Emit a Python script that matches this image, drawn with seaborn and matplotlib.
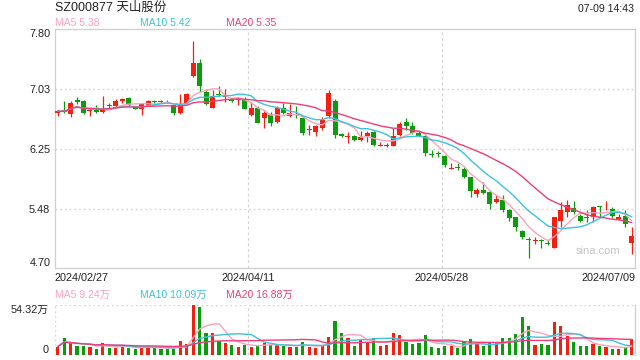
import numpy as np
import pandas as pd
import matplotlib
matplotlib.use("Agg")
import matplotlib.pyplot as plt
import seaborn as sns
from matplotlib.transforms import blended_transform_factory as btf

# ---------------- data ----------------
title = "SZ000877 天山股份"
timestamp = "07-09 14:43"
ma_price_text = ["MA5 5.38", "MA10 5.42", "MA20 5.35"]
ma_vol_text = ["MA5 9.24万", "MA10 10.09万", "MA20 16.88万"]
date_labels = ["2024/02/27", "2024/04/11", "2024/05/28", "2024/07/09"]
price_ticks = [4.70, 5.475, 6.25, 7.025, 7.80]
price_tick_labels = ["4.70", "5.48", "6.25", "7.03", "7.80"]
vol_ticks = [0, 54.32]
vol_tick_labels = ["0", "54.32万"]
watermark = "sina.com"

opens = [6.72, 6.75, 6.70, 6.88, 6.87, 6.74, 6.75, 6.73, 6.82, 6.81,
         6.87, 6.91, 6.80, 6.77, 6.82, 6.87, 6.87, 6.86, 6.82, 6.71,
         6.85, 7.19, 7.36, 6.99, 6.78, 6.96, 6.92, 6.90, 6.88, 6.88,
         6.69, 6.78, 6.65, 6.69, 6.60, 6.78, 6.67, 6.70, 6.65, 6.49,
         6.47, 6.52, 6.67, 6.87, 6.44, 6.40, 6.42, 6.36, 6.42, 6.47,
         6.29, 6.29, 6.29, 6.43, 6.60, 6.54, 6.46, 6.42, 6.18, 6.19,
         6.16, 5.99, 6.02, 5.99, 5.88, 5.66, 5.71, 5.69, 5.56, 5.58,
         5.46, 5.36, 5.18, 5.08, 5.06, 5.07, 5.02, 4.96, 5.32, 5.43,
         5.48, 5.38, 5.36, 5.36, 5.50, 5.45, 5.47, 5.34, 5.38, 5.03]
highs = [6.75, 6.87, 6.87, 6.92, 6.88, 6.76, 6.82, 6.93, 6.84, 6.89,
         6.91, 6.92, 6.81, 6.85, 6.88, 6.88, 6.88, 6.88, 6.83, 6.96,
         6.98, 7.65, 7.41, 7.03, 7.01, 7.06, 7.03, 6.91, 6.92, 6.92,
         6.86, 6.80, 6.74, 6.73, 6.80, 6.84, 6.83, 6.80, 6.66, 6.56,
         6.56, 6.66, 7.01, 6.89, 6.45, 6.47, 6.43, 6.48, 6.48, 6.48,
         6.34, 6.33, 6.52, 6.60, 6.65, 6.60, 6.48, 6.43, 6.23, 6.22,
         6.17, 6.07, 6.07, 6.01, 5.89, 5.74, 5.82, 5.71, 5.65, 5.65,
         5.47, 5.37, 5.20, 5.10, 5.11, 5.08, 5.07, 5.37, 5.56, 5.58,
         5.57, 5.40, 5.45, 5.51, 5.51, 5.57, 5.50, 5.41, 5.45, 5.24]
lows = [6.67, 6.71, 6.66, 6.83, 6.70, 6.68, 6.72, 6.72, 6.78, 6.79,
        6.84, 6.80, 6.76, 6.69, 6.80, 6.84, 6.84, 6.84, 6.69, 6.70,
        6.84, 7.18, 6.99, 6.82, 6.78, 6.93, 6.86, 6.86, 6.82, 6.76,
        6.67, 6.58, 6.52, 6.54, 6.58, 6.70, 6.66, 6.65, 6.43, 6.43,
        6.42, 6.50, 6.65, 6.39, 6.40, 6.32, 6.35, 6.35, 6.34, 6.28,
        6.28, 6.27, 6.28, 6.41, 6.49, 6.44, 6.41, 6.16, 6.15, 6.14,
        6.02, 5.99, 5.98, 5.87, 5.63, 5.63, 5.67, 5.47, 5.55, 5.43,
        5.32, 5.18, 5.08, 4.83, 5.01, 4.96, 5.00, 4.96, 5.24, 5.36,
        5.41, 5.30, 5.30, 5.30, 5.36, 5.45, 5.35, 5.33, 5.24, 4.88]
closes = [6.74, 6.73, 6.84, 6.86, 6.71, 6.75, 6.73, 6.76, 6.81, 6.87,
          6.89, 6.82, 6.77, 6.83, 6.87, 6.86, 6.86, 6.85, 6.71, 6.82,
          6.96, 7.36, 7.06, 6.83, 6.93, 6.95, 6.93, 6.87, 6.89, 6.77,
          6.78, 6.59, 6.72, 6.58, 6.78, 6.71, 6.71, 6.69, 6.45, 6.50,
          6.54, 6.62, 6.98, 6.43, 6.41, 6.41, 6.36, 6.40, 6.46, 6.30,
          6.30, 6.30, 6.41, 6.57, 6.54, 6.45, 6.42, 6.19, 6.17, 6.18,
          6.04, 6.00, 6.00, 5.89, 5.70, 5.71, 5.68, 5.54, 5.60, 5.46,
          5.35, 5.23, 5.10, 5.07, 5.07, 5.05, 5.01, 5.36, 5.45, 5.52,
          5.43, 5.32, 5.35, 5.49, 5.49, 5.46, 5.38, 5.37, 5.27, 5.12]
volumes = [9.1, 18.8, 12.7, 10.1, 10.1, 9.1, 6.9, 13.4, 8.0, 8.0,
           10.1, 8.0, 6.5, 8.0, 10.1, 8.0, 6.5, 6.5, 6.5, 15.2,
           12.0, 54.32, 52.5, 24.3, 23.5, 15.2, 13.4, 10.9, 9.1, 10.9,
           9.1, 10.9, 13.4, 10.9, 10.9, 10.1, 9.1, 9.1, 14.5, 9.1,
           7.2, 9.8, 19.9, 37.3, 24.3, 18.8, 10.1, 16.3, 13.8, 18.8,
           10.1, 10.9, 24.3, 21.7, 14.5, 12.0, 13.4, 21.7, 8.3, 7.2,
           9.8, 9.8, 8.0, 15.2, 17.4, 12.7, 9.8, 13.4, 13.4, 18.8,
           18.8, 22.8, 41.6, 31.5, 10.9, 12.0, 10.9, 36.2, 31.5, 20.6,
           14.5, 9.8, 9.8, 12.0, 9.8, 9.1, 6.5, 6.5, 8.0, 17.0]

# ---------------- styling ----------------
RED = "#f4200f"
GREEN = "#0b9b0b"
C_MA5 = "#f9a2bc"
C_MA10 = "#3cc2df"
C_MA20 = "#ee3e78"
GRID = "#d2d2d2"
FRAME = "#cfcfcf"
TXT = "#222222"

sns.set_style("white")
plt.rcParams["font.family"] = ["Liberation Sans", "Noto Sans CJK SC", "DejaVu Sans"]

n = len(closes)
df = pd.DataFrame({"i": np.arange(n), "open": opens, "high": highs,
                   "low": lows, "close": closes, "vol": volumes})
for w in (5, 10, 20):
    df[f"ma{w}"] = df["close"].rolling(w, min_periods=1).mean()
    df[f"vma{w}"] = df["vol"].rolling(w, min_periods=1).mean()
df["col"] = np.where(df["close"] >= df["open"], RED, GREEN)

W, H = 640, 360
fig = plt.figure(figsize=(W / 100, H / 100), dpi=100)
L, R = 54.5, 635.0
ax = fig.add_axes([L / W, 1 - 268.3 / H, (R - L) / W, (268.3 - 29.3) / H])
axv = fig.add_axes([L / W, 1 - 355 / H, (R - L) / W, 50 / H])

# ---------------- price panel ----------------
ax.vlines(df["i"], df["low"], df["high"], colors=df["col"], linewidth=0.9, zorder=2)
body = np.maximum((df["close"] - df["open"]).abs(), 0.012)
ax.bar(df["i"], body, bottom=np.minimum(df["open"], df["close"]),
       width=0.78, color=df["col"], linewidth=0, zorder=3)
for key, c in (("ma5", C_MA5), ("ma10", C_MA10), ("ma20", C_MA20)):
    sns.lineplot(data=df, x="i", y=key, ax=ax, color=c, linewidth=1.0,
                 legend=False, zorder=4)

ax.set_xlim(-0.5, n - 0.5)
ax.set_ylim(price_ticks[0], price_ticks[-1])
for yv in price_ticks[1:-1]:
    ax.axhline(yv, color=GRID, linestyle=(0, (1.2, 2.2)), linewidth=1.0, zorder=1)
for xv in (29.5, 59.5):
    ax.axvline(xv, color=GRID, linestyle=(0, (2.5, 2.5)), linewidth=0.8, zorder=1)
for s in ax.spines.values():
    s.set_color(FRAME)
    s.set_linewidth(0.9)
ax.set_xticks([])
ax.set_xlabel("")
ax.set_ylabel("")
ax.set_yticks(price_ticks)
ax.set_yticklabels(price_tick_labels, fontsize=7.8, color=TXT)
ax.tick_params(axis="y", length=0, pad=3)
tl = ax.get_yticklabels()
tl[0].set_va("bottom")
tl[-1].set_va("top")

tr = btf(ax.transData, ax.transAxes)
date_pos = [-0.5, 29.5, 59.5, n - 0.5]
date_ha = ["left", "center", "center", "right"]
for xv, lab, ha in zip(date_pos, date_labels, date_ha):
    ax.text(xv, -0.018, lab, transform=tr, ha=ha, va="top", fontsize=7.8, color=TXT)

ax.text(0.975, 0.072, watermark, transform=ax.transAxes, ha="right", va="center",
        fontsize=8, color="#c4c4c4")

# ---------------- volume panel ----------------
axv.bar(df["i"], df["vol"], width=0.5, color=df["col"], linewidth=0, zorder=2)
for key, c in (("vma5", C_MA5), ("vma10", C_MA10), ("vma20", C_MA20)):
    sns.lineplot(data=df, x="i", y=key, ax=axv, color=c, linewidth=1.0,
                 legend=False, zorder=3)
axv.set_xlim(-0.5, n - 0.5)
axv.set_ylim(vol_ticks[0], vol_ticks[1])
for xv in (29.5, 59.5):
    axv.axvline(xv, color=GRID, linestyle=(0, (2.5, 2.5)), linewidth=0.8, zorder=1)
for side in ("top", "bottom", "left"):
    axv.spines[side].set_visible(False)
axv.spines["right"].set_color(FRAME)
axv.spines["right"].set_linewidth(0.9)
axv.axhline(vol_ticks[1], color=GRID, linestyle=(0, (1.2, 2.2)), linewidth=1.0, zorder=1)
axv.axhline(0, color=GRID, linestyle=(0, (1.2, 2.2)), linewidth=1.0, zorder=1)
axv.axvline(-0.5, color=GRID, linestyle=(0, (1.2, 2.2)), linewidth=1.0, zorder=1)
axv.set_xticks([])
axv.set_xlabel("")
axv.set_ylabel("")
axv.set_yticks(vol_ticks)
axv.set_yticklabels(vol_tick_labels, fontsize=7.8, color=TXT)
axv.tick_params(axis="y", length=0, pad=4)
vl = axv.get_yticklabels()
vl[0].set_va("bottom")
vl[-1].set_va("top")

# ---------------- header texts ----------------
fig.text(55 / W, 1 - 8 / H, title, ha="left", va="center", fontsize=9, color=TXT)
fig.text(634 / W, 1 - 9 / H, timestamp, ha="right", va="center", fontsize=7.6, color=TXT)
leg_x = [55, 140.5, 225.5]
for xv, t, c in zip(leg_x, ma_price_text, (C_MA5, C_MA10, C_MA20)):
    fig.text(xv / W, 1 - 23.5 / H, t, ha="left", va="center", fontsize=7.5, color=c)
for xv, t, c in zip(leg_x, ma_vol_text, (C_MA5, C_MA10, C_MA20)):
    fig.text(xv / W, 1 - 295 / H, t, ha="left", va="center", fontsize=7.5, color=c)

fig.savefig("out.png", dpi=100)
